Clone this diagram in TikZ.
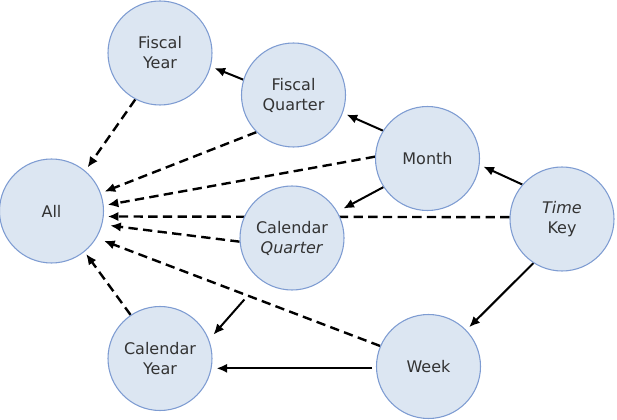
\documentclass[tikz,border=0pt]{standalone}
\usepackage{fontspec}
\setmainfont{DejaVu Sans}
\usetikzlibrary{arrows.meta,backgrounds}
\definecolor{levelfill}{RGB}{220,230,242}
\definecolor{leveldraw}{RGB}{126,156,210}
\definecolor{leveltext}{RGB}{51,51,51}
\tikzset{
  level/.style={circle, draw=leveldraw, fill=levelfill, line width=0.8pt,
    minimum size=78pt, inner sep=0pt, align=center, text=leveltext,
    font=\fontsize{12}{15}\selectfont},
  rollup/.style={-{Latex[length=8pt,width=7pt]}, line width=1.5pt, shorten >=3pt},
  toall/.style={rollup, line width=1.8pt, dash pattern=on 7pt off 4pt},
}
\begin{document}
\begin{tikzpicture}[x=0.75pt, y=-0.75pt]
  \useasboundingbox (0,0) rectangle (617,420);
  \node[level] (All) at (51.5,211) {All};
  \node[level] (FY) at (160,53) {Fiscal\\Year};
  \node[level] (FQ) at (293.5,95) {Fiscal\\Quarter};
  \node[level] (M) at (427.5,158.5) {Month};
  \node[level] (CQ) at (292,238) {Calendar\\\textit{Quarter}};
  \node[level] (TK) at (562,219) {\textit{Time}\\Key};
  \node[level] (W) at (428.5,366.5) {Week};
  \node[level] (CY) at (160,358.5) {Calendar\\Year};
  \begin{scope}[on background layer]
    \draw[rollup] (FQ.163) -- (FY.-15);
    \draw[rollup] (M.148) -- (FQ.-20);
    \draw[rollup] (TK.139) -- (M.-7);
    \draw[rollup, shorten >=5pt] (M.213) -- (CQ.30);
    \draw[rollup] (TK.237) -- (W.44);
    \draw[rollup, shorten <=3pt] (W.182) -- (W.182 -| CY.east);
    \draw[rollup, shorten <=19pt, shorten >=5pt] (CQ.234) -- (CY.21);
    \draw[toall] (FY.242) -- (All.50);
    \draw[toall] (FQ.225) -- (All.20);
    \draw[toall] (M.178) -- (All.6);
    \draw[toall] (TK.178) -- (All.-6);
    \draw[toall, shorten >=6pt] (CQ.184) -- (All.-15);
    \draw[toall, shorten >=6pt] (W.157) -- (All.-31);
    \draw[toall, shorten >=2pt] (CY.124) -- (All.-51);
  \end{scope}
\end{tikzpicture}
\end{document}
